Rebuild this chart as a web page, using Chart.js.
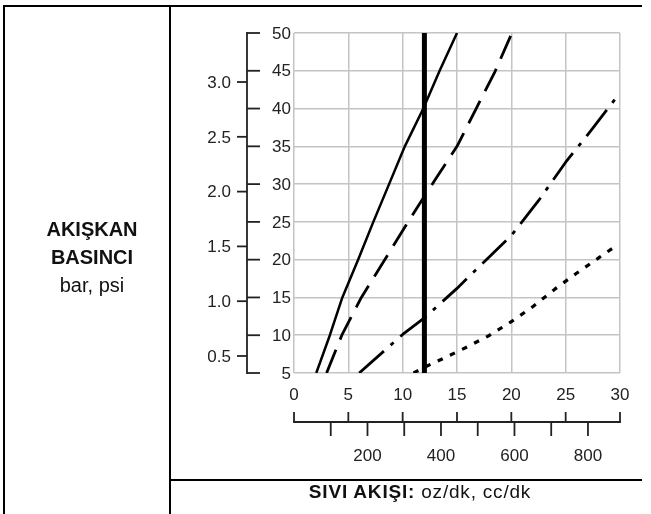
<!DOCTYPE html>
<html>
<head>
<meta charset="utf-8">
<title>Akışkan basıncı / sıvı akışı</title>
<script src="https://cdn.jsdelivr.net/npm/chart.js@4.4.0/dist/chart.umd.min.js"></script>
<style>
  html, body { margin: 0; padding: 0; background: #fff; }
  body {
    width: 651px; height: 514px; position: relative; overflow: hidden;
    font-family: "Liberation Sans", Arial, Helvetica, sans-serif; color: #111;
  }
  #chart { position: absolute; left: 0; top: 0; }
  .rule { position: absolute; background: #000; }
  .side {
    position: absolute; left: 8px; width: 168px; top: 215px;
    text-align: center; font-size: 20px; line-height: 28px;
  }
  .foot {
    position: absolute; left: 199px; width: 442px; top: 481px;
    text-align: center; font-size: 19px; letter-spacing: 0.8px;
  }
</style>
</head>
<body>
<canvas id="chart" width="651" height="514"></canvas>

<!-- table frame -->
<div class="rule" style="left:3px; top:5px; width:639px; height:2px;"></div>
<div class="rule" style="left:3px; top:5px; width:2px; height:509px;"></div>
<div class="rule" style="left:169px; top:5px; width:2px; height:509px;"></div>
<div class="rule" style="left:169px; top:479px; width:473px; height:2px;"></div>

<div class="side"><b>AKIŞKAN</b><br><b>BASINCI</b><br>bar, psi</div>
<div class="foot"><b>SIVI AKIŞI:</b> oz/dk, cc/dk</div>

<script>
// unit conversions for the second axes
const PSI_PER_BAR = 14.5038;
const CC_PER_OZ = 29.5735;

// tick labels
const flowTicksOz = [0, 5, 10, 15, 20, 25, 30];
const psiTicks = [5, 10, 15, 20, 25, 30, 35, 40, 45, 50];
const barTicks = [0.5, 1.0, 1.5, 2.0, 2.5, 3.0];
const ccTicks = [100, 200, 300, 400, 500, 600, 700, 800];
const ccLabels = [200, 400, 600, 800];

// curves: flow (oz/dk) and pressure (psi)
const markerFlow = [12, 12];
const markerPsi = [5, 50];

const solidFlow = [2.05, 3.3, 4.45, 5.9, 7.3, 8.75, 10.2, 11.9, 13.4, 15];
const solidPsi = [5, 10, 15, 20, 25, 30, 35, 40, 45, 50];

const dashFlow = [3, 4.4, 6.2, 8.35, 10.5, 12, 13, 15, 16.8, 18.5, 20.05];
const dashPsi = [5, 10, 15, 20, 25, 28.4, 30.6, 35, 40.1, 44.9, 50];

const dashDotFlow = [6, 10, 12, 15, 17.7, 20, 22.5, 25, 27.5, 30];
const dashDotPsi = [5, 10.1, 12.3, 16.2, 20, 23.2, 27.8, 32.9, 37.4, 42.1];

const dotFlow = [11, 12.2, 14, 16, 18, 20, 22, 24, 26, 28, 29.3];
const dotPsi = [5, 5.9, 7.1, 8.5, 10, 11.8, 13.8, 16.1, 18.2, 20.2, 21.5];

const TICK_FONT = { family: '"Liberation Sans", Arial, sans-serif', size: 17 };
const INK = '#222';

function pts(xs, ys) {
    return xs.map((v, i) => ({ x: v, y: ys[i] }));
}

function curve(xs, ys, width, dash) {
    return {
        data: pts(xs, ys),
        showLine: true,
        borderColor: '#000',
        borderWidth: width,
        borderDash: dash,
        borderCapStyle: 'butt',
        borderJoinStyle: 'round',
        pointRadius: 0,
        tension: 0
    };
}

// draws the psi/bar axis on the left and the oz/cc ruler under the plot
const dualAxes = {
    id: 'dualAxes',
    afterDraw(chart) {
        const { ctx } = chart;
        const { x, y, cc, bar } = chart.scales;
        const seg = (x1, y1, x2, y2) => {
            ctx.beginPath();
            ctx.moveTo(x1, y1);
            ctx.lineTo(x2, y2);
            ctx.stroke();
        };
        ctx.save();
        ctx.strokeStyle = INK;
        ctx.fillStyle = INK;
        ctx.lineWidth = 1.8;
        ctx.font = `${TICK_FONT.size}px ${TICK_FONT.family}`;

        // vertical pressure axis
        const axX = 247;
        seg(axX, y.getPixelForValue(psiTicks[psiTicks.length - 1]) - 0.9, axX, y.getPixelForValue(psiTicks[0]) + 0.9);
        ctx.textAlign = 'right';
        ctx.textBaseline = 'middle';
        psiTicks.forEach(v => {
            const py = y.getPixelForValue(v);
            seg(axX, py, axX + 13, py);
            ctx.fillText(String(v), 291, py + 1);
        });
        barTicks.forEach(v => {
            const py = bar.getPixelForValue(v);
            seg(axX - 10, py, axX, py);
            ctx.fillText(v.toFixed(1), 231, py + 1);
        });

        // flow ruler: oz ticks up, cc ticks down
        const ly = 422;
        seg(x.getPixelForValue(0) - 0.9, ly, x.getPixelForValue(30) + 0.9, ly);
        flowTicksOz.forEach(v => {
            const px = x.getPixelForValue(v);
            seg(px, ly - 10, px, ly);
        });
        ccTicks.forEach(v => {
            const px = cc.getPixelForValue(v);
            seg(px, ly, px, ly + 14);
        });
        ctx.textAlign = 'center';
        ccLabels.forEach(v => ctx.fillText(String(v), cc.getPixelForValue(v), 456));
        ctx.restore();
    }
};

const gridStyle = { color: '#c4c4c4', lineWidth: 1.5, drawTicks: false };

new Chart(document.getElementById('chart'), {
    type: 'scatter',
    data: {
        datasets: [
            curve(markerFlow, markerPsi, 5, []),
            curve(solidFlow, solidPsi, 2.5, []),
            curve(dashFlow, dashPsi, 2.8, [25, 11]),
            curve(dashDotFlow, dashDotPsi, 2.8, [33, 9, 4, 9]),
            curve(dotFlow, dotPsi, 3.2, [5.5, 8])
        ]
    },
    options: {
        responsive: false,
        animation: false,
        events: [],
        layout: { padding: { left: 294, top: 33, right: 31, bottom: 0 } },
        plugins: { legend: { display: false }, tooltip: { enabled: false } },
        scales: {
            x: {
                type: 'linear', position: 'bottom', min: 0, max: 30,
                afterBuildTicks: s => { s.ticks = flowTicksOz.map(v => ({ value: v })); },
                ticks: { color: INK, font: TICK_FONT, padding: 12 },
                grid: gridStyle,
                border: { display: false },
                afterFit: s => { s.height = 141; }
            },
            y: {
                type: 'linear', position: 'left', min: 5, max: 50,
                afterBuildTicks: s => { s.ticks = psiTicks.map(v => ({ value: v })); },
                ticks: { display: false },
                grid: gridStyle,
                border: { display: false },
                afterFit: s => { s.width = 0; }
            },
            cc: {
                type: 'linear', axis: 'x', position: 'bottom', display: false,
                min: 0, max: 30 * CC_PER_OZ
            },
            bar: {
                type: 'linear', axis: 'y', position: 'left', display: false,
                min: 5 / PSI_PER_BAR, max: 50 / PSI_PER_BAR
            }
        }
    },
    plugins: [dualAxes]
});
</script>
</body>
</html>
